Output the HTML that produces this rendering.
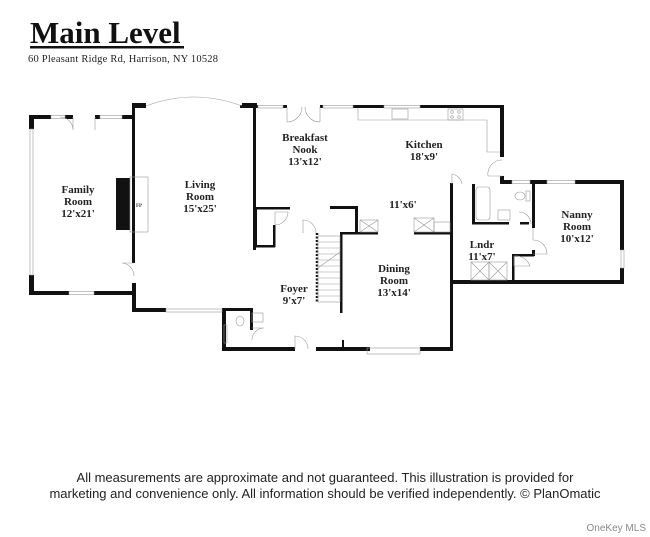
<!DOCTYPE html>
<html><head><meta charset="utf-8"><style>
body{margin:0;background:#fff;width:650px;height:537px;overflow:hidden}
svg{display:block}
.t{font-family:"Liberation Serif",serif;font-weight:bold;font-size:11px;fill:#222;text-anchor:middle}
</style></head><body>
<svg width="650" height="537" viewBox="0 0 650 537" xmlns="http://www.w3.org/2000/svg">
<text x="30" y="43" font-family="Liberation Serif,serif" font-weight="bold" font-size="31" fill="#111">Main Level</text>
<rect x="30" y="46" width="154" height="2.5" fill="#111"/>
<text x="28" y="62" font-family="Liberation Serif,serif" font-size="10.5" fill="#222" textLength="190">60 Pleasant Ridge Rd, Harrison, NY 10528</text>

<g fill="#111">
<rect x="29" y="115" width="22" height="4"/><rect x="65" y="115" width="8" height="4"/><rect x="95" y="115" width="5" height="4"/><rect x="122" y="115" width="12" height="4"/>
<rect x="29" y="115" width="5" height="14"/><rect x="29" y="275" width="5" height="20"/>
<rect x="29" y="291" width="40" height="4"/><rect x="94" y="291" width="42" height="4"/>
<rect x="116" y="178" width="14" height="52"/>
<rect x="132" y="103" width="14" height="5"/><rect x="242" y="103" width="15" height="5"/>
<rect x="132" y="103" width="3" height="160"/><rect x="132" y="283" width="4" height="29"/>
<rect x="132" y="308" width="34" height="4"/>
<rect x="253" y="105" width="3" height="145"/>
<rect x="240" y="105" width="18" height="3"/><rect x="283" y="105" width="4" height="3"/><rect x="320" y="105" width="3" height="3"/><rect x="353" y="105" width="31" height="3"/><rect x="420" y="105" width="84" height="3"/>
<rect x="500" y="105" width="4" height="52"/><rect x="500" y="176" width="4" height="8"/>
<rect x="500" y="180" width="12" height="4"/><rect x="530" y="180" width="17" height="4"/><rect x="575" y="180" width="49" height="4"/>
<rect x="620" y="180" width="4" height="70"/><rect x="620" y="268" width="4" height="16"/>
<rect x="450" y="280" width="174" height="4"/>
<rect x="450" y="183" width="3" height="168"/>
<rect x="222" y="308" width="4" height="43"/><rect x="222" y="347" width="73" height="4"/>
<rect x="316" y="347" width="54" height="4"/><rect x="420" y="347" width="33" height="4"/>
<rect x="342" y="340" width="2" height="8"/>
<rect x="250" y="308" width="3" height="22"/><rect x="222" y="308" width="30" height="3"/>
<rect x="254" y="207" width="36" height="2.5"/><rect x="254" y="207" width="3" height="40"/><rect x="254" y="245" width="21" height="2.5"/><rect x="273" y="225" width="2.5" height="22"/>
<rect x="330" y="206" width="27" height="3"/><rect x="355" y="206" width="3" height="28"/>
<rect x="340" y="232" width="38" height="2.5"/><rect x="414" y="232" width="38" height="2.5"/>
<rect x="340" y="232" width="2.5" height="81"/>
<rect x="472" y="184" width="3" height="40"/><rect x="472" y="222" width="37" height="2.5"/><rect x="520" y="222" width="9" height="2.5"/>
<rect x="532" y="184" width="3" height="44"/><rect x="532" y="250" width="3" height="6"/>
<rect x="512" y="254" width="22" height="2.5"/><rect x="512" y="254" width="2.5" height="28"/>
</g>
<line x1="317" y1="233" x2="317" y2="302" stroke="#111" stroke-width="2.5" stroke-dasharray="2,1.5"/>
<g stroke="#999" stroke-width="0.6" fill="none">
<rect x="51" y="115.5" width="14" height="3"/><rect x="100" y="115.5" width="22" height="3"/>
<rect x="30" y="129" width="3" height="146"/><rect x="69" y="291.5" width="25" height="3"/>
<rect x="166" y="309" width="56" height="3"/>
<rect x="258" y="105.5" width="25" height="2.5"/><rect x="323" y="105.5" width="30" height="2.5"/><rect x="384" y="105.5" width="36" height="2.5"/>
<rect x="512" y="180.5" width="18" height="3"/><rect x="547" y="180.5" width="28" height="3"/><rect x="621" y="250" width="3" height="18"/>
<rect x="367" y="348" width="53" height="6"/>
<rect x="224" y="325" width="3" height="18"/>
<path d="M146 106 Q194 88 242 106"/>
<rect x="130" y="177" width="18" height="55"/>
<path d="M358 108 V120 H487 V152 H500"/>
<rect x="392" y="109" width="16" height="10"/><rect x="448" y="109" width="15" height="11"/>
<circle cx="452" cy="112" r="1.3"/><circle cx="459" cy="112" r="1.3"/><circle cx="452" cy="117" r="1.3"/><circle cx="459" cy="117" r="1.3"/>
<rect x="360" y="220" width="18" height="12"/><path d="M360 220 L378 232 M378 220 L360 232"/>
<rect x="414" y="218" width="20" height="14"/><path d="M414 218 L434 232 M434 218 L414 232"/>
<rect x="434" y="222" width="16" height="10"/>
<rect x="471" y="262" width="18" height="18"/><path d="M471 262 L489 280 M489 262 L471 280"/>
<rect x="489" y="262" width="18" height="18"/><path d="M489 262 L507 280 M507 262 L489 280"/>
<rect x="476" y="187" width="14" height="33" rx="3"/>
<rect x="498" y="210" width="12" height="10"/>
<ellipse cx="520" cy="196" rx="5" ry="4"/><rect x="526" y="191" width="4" height="10"/>
<ellipse cx="240" cy="321" rx="4" ry="5"/><rect x="252" y="313" width="11" height="9"/>
<rect x="318" y="236" width="22" height="66"/>
<path d="M318 242h22M318 248h22M318 254h22M318 260h22M318 266h22M318 272h22M318 278h22M318 284h22M318 290h22M318 296h22M318 268 L340 252"/>
<path d="M73 117 V130 A13 13 0 0 0 60 117"/><path d="M95 117 V130"/>
<path d="M287 107 V122 M287 122 A15 15 0 0 0 302 107 M320 107 V122 M320 122 A15 15 0 0 1 305 107"/>
<path d="M134 263 H122 A13 13 0 0 1 134 276"/>
<path d="M275 212 V225 M275 212 H288 A13 13 0 0 1 275 225"/>
<path d="M316 233 A13 13 0 0 0 303 220 V233"/>
<path d="M502 176 H488 A14 14 0 0 1 502 160"/>
<path d="M452 184 V174 A12 12 0 0 1 462 184"/>
<path d="M533 228 V240 A14 14 0 0 1 547 254 H533"/>
<path d="M514 256 V266 M514 266 H530 A15 15 0 0 0 514 256"/>
<path d="M531 224 A12 12 0 0 0 519 212"/>
<path d="M295 349 V336 A13 13 0 0 1 308 349"/>
<path d="M252 340 A12 12 0 0 1 264 328 H252"/>
</g>
<text x="139" y="207" font-family="Liberation Serif,serif" font-size="5" font-weight="bold" text-anchor="middle" fill="#333">FP</text>
<text class="t" x="78" y="193">Family</text><text class="t" x="78" y="205">Room</text><text class="t" x="78" y="217">12'x21'</text>
<text class="t" x="200" y="188">Living</text><text class="t" x="200" y="200">Room</text><text class="t" x="200" y="212">15'x25'</text>
<text class="t" x="305" y="141">Breakfast</text><text class="t" x="305" y="153">Nook</text><text class="t" x="305" y="165">13'x12'</text>
<text class="t" x="424" y="148">Kitchen</text><text class="t" x="424" y="160">18'x9'</text>
<text class="t" x="403" y="208">11'x6'</text>
<text class="t" x="482" y="248">Lndr</text><text class="t" x="482" y="260">11'x7'</text>
<text class="t" x="577" y="218">Nanny</text><text class="t" x="577" y="230">Room</text><text class="t" x="577" y="242">10'x12'</text>
<text class="t" x="394" y="272">Dining</text><text class="t" x="394" y="284">Room</text><text class="t" x="394" y="296">13'x14'</text>
<text class="t" x="294" y="292">Foyer</text><text class="t" x="294" y="304">9'x7'</text>

<text x="325" y="482" font-family="Liberation Sans,sans-serif" font-size="13" fill="#222" text-anchor="middle">All measurements are approximate and not guaranteed. This illustration is provided for</text>
<text x="325" y="498" font-family="Liberation Sans,sans-serif" font-size="13" fill="#222" text-anchor="middle">marketing and convenience only. All information should be verified independently. © PlanOmatic</text>
<text x="646" y="531" font-family="Liberation Sans,sans-serif" font-size="10" fill="#888" text-anchor="end">OneKey MLS</text>
</svg>
</body></html>
